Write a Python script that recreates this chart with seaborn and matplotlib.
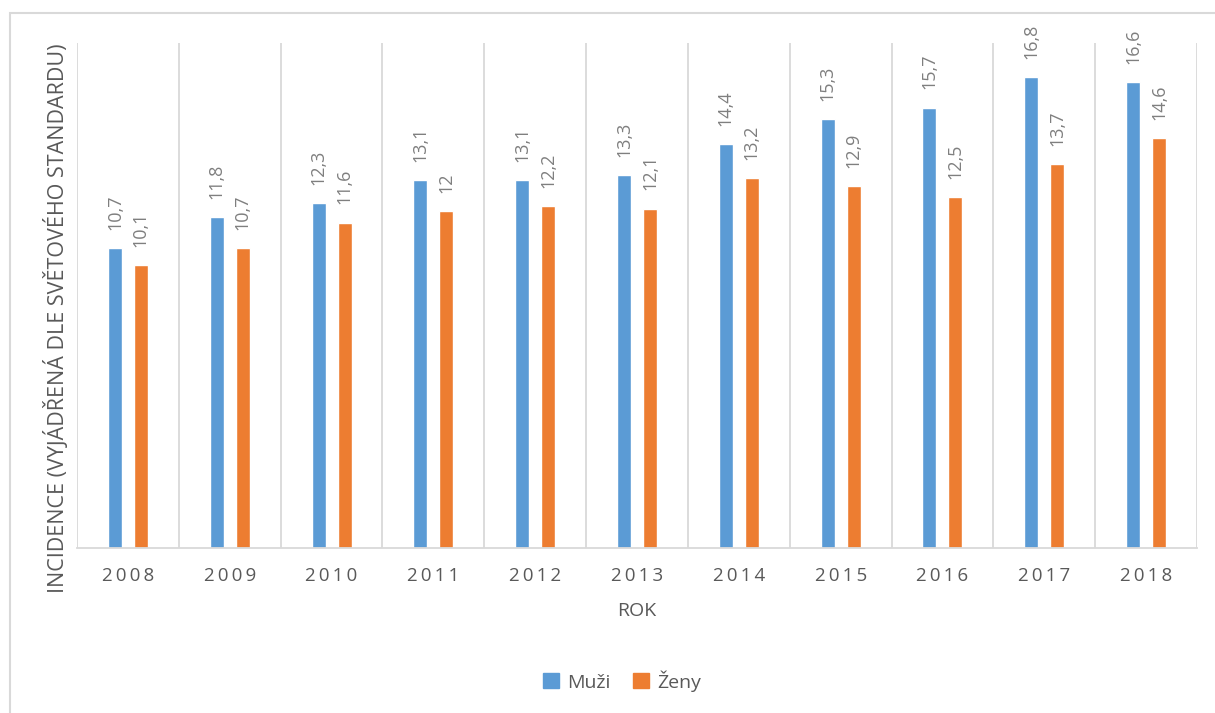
import pandas as pd
import numpy as np
import matplotlib
matplotlib.use("Agg")
import matplotlib.pyplot as plt
from matplotlib.patches import Patch, Rectangle
import seaborn as sns

# data
roky = ["2008", "2009", "2010", "2011", "2012", "2013", "2014", "2015", "2016", "2017", "2018"]
muzi = [10.7, 11.8, 12.3, 13.1, 13.1, 13.3, 14.4, 15.3, 15.7, 16.8, 16.6]
zeny = [10.1, 10.7, 11.6, 12.0, 12.2, 12.1, 13.2, 12.9, 12.5, 13.7, 14.6]
skupiny = ["Muži", "Ženy"]
barvy = ["#5B9BD5", "#ED7D31"]

df = pd.DataFrame({
    "rok": roky * 2,
    "pohlavi": [skupiny[0]] * len(roky) + [skupiny[1]] * len(roky),
    "hodnota": muzi + zeny,
})

sns.set_style("white")
plt.rcParams["font.family"] = ["Open Sans", "DejaVu Sans"]
text_color = "#595959"
label_color = "#7F7F7F"
grid_color = "#D9D9D9"

fig = plt.figure(figsize=(12.15, 7.13), dpi=100)
ax = fig.add_axes([77 / 1215, 1 - 548 / 713, 1120 / 1215, 505 / 713])

sns.barplot(data=df, x="rok", y="hodnota", hue="pohlavi", order=roky,
            hue_order=skupiny, palette=barvy, width=0.51, gap=0.46,
            saturation=1, legend=False, ax=ax)

# data labels with decimal comma
for cont in ax.containers:
    labels = [f"{v:g}".replace(".", ",") for v in cont.datavalues]
    ax.bar_label(cont, labels=labels, rotation=90, padding=13,
                 color=label_color, fontsize=13)

ax.set_ylim(0, 18)
ax.set_xlim(-0.5, len(roky) - 0.5)
ax.set_yticks([])

# vertical gridlines between categories
ax.set_xticks(np.arange(len(roky) + 1) - 0.5, minor=True)
ax.grid(which="minor", axis="x", color=grid_color, linewidth=1.3)
ax.tick_params(axis="x", which="both", length=0, pad=14, labelsize=13.5,
               labelcolor=text_color)
ax.set_xticks(range(len(roky)))
ax.set_xticklabels(["\u2009".join(r) for r in roky])

for side in ["top", "right", "left"]:
    ax.spines[side].set_visible(False)
ax.spines["bottom"].set_color(grid_color)
ax.spines["bottom"].set_linewidth(1.3)

ax.set_xlabel("ROK", fontsize=14, color=text_color, labelpad=12)
ax.set_ylabel("INCIDENCE (VYJÁDŘENÁ DLE SVĚTOVÉHO STANDARDU)", fontsize=15.5,
              color=text_color)
ax.yaxis.set_label_coords(-0.007, 0.455)

handles = [Patch(facecolor=c, edgecolor=c) for c in barvy]
fig.legend(handles, skupiny, loc="center", bbox_to_anchor=(0.512, 0.045),
           ncol=2, frameon=False, fontsize=14, handlelength=0.8,
           handleheight=0.8, handletextpad=0.4, columnspacing=1.2,
           labelcolor=text_color)

# outer chart frame
fig.patches.append(Rectangle((10 / 1215, -0.1), 1.1, 1.1 - 13 / 713,
                             transform=fig.transFigure, fill=False,
                             edgecolor=grid_color, linewidth=1.5))

fig.savefig("out.png", dpi=100)
